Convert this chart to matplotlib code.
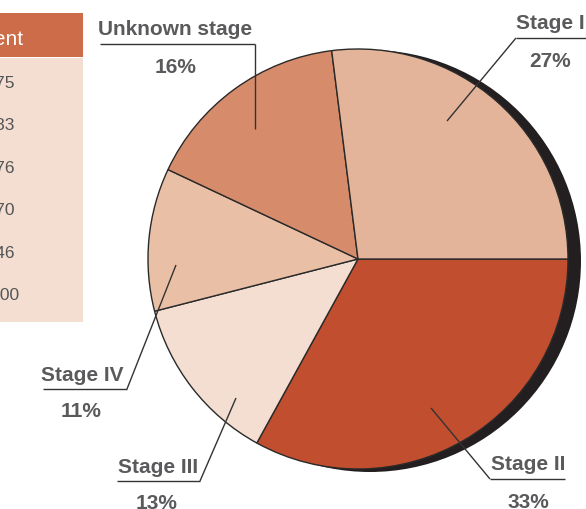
import matplotlib
matplotlib.use("Agg")
import matplotlib.pyplot as plt
from matplotlib.patches import Circle, Rectangle

# ---- data ----
categories = ["Stage II", "Stage III", "Stage IV", "Unknown stage", "Stage I"]
percents = [33, 13, 11, 16, 27]
colors = ["#C14E2E", "#F3DED1", "#E9BFA6", "#D68C6B", "#E3B499"]

table_header = "Percent"
table_values = ["26.75", "32.83", "12.76", "10.70", "16.46", "100.00"]

# ---- layout (pixel coords, y measured from top) ----
W, H = 586, 510
def Y(y):
    return H - y

fig = plt.figure(figsize=(W / 100, H / 100), dpi=100)
ax = fig.add_axes([0, 0, 1, 1])

cx, cy, r = 358, 260, 210

# shadow
ax.add_patch(Circle((cx + 12, Y(cy + 2)), r + 1, facecolor="#231F20",
                    edgecolor="none", zorder=0))

wedges, _ = ax.pie(percents, colors=colors, startangle=0, counterclock=False,
                   radius=r, center=(cx, Y(cy)),
                   wedgeprops=dict(edgecolor="#2a2a2a", linewidth=1.0))
for w in wedges:
    w.set_zorder(1)

lab_font = dict(family="Liberation Sans", fontsize=15, fontweight="bold",
                color="#5A5A5C")
line_kw = dict(color="#333333", lw=1.0, zorder=3, solid_capstyle="butt")

# label layouts: (label x, label baseline, ha, pct x, pct baseline,
#                 underline x0, x1, underline y, leader end x, leader end y, leader start x)
layout = {
    "Unknown stage": (175.5, 35, "center", 176, 73, 100, 255, 45, 255, 130, 255),
    "Stage I": (516, 29, "left", 550, 67, 516, 590, 39, 447, 122, 516),
    "Stage II": (528, 470, "center", 528, 508, 490, 565, 480, 431, 409, 490),
    "Stage III": (158, 473, "center", 157, 509, 117, 200, 482, 236, 399, 200),
    "Stage IV": (82, 381, "center", 81, 417, 43, 127, 390, 176, 266, 127),
}

for cat, pct in zip(categories, percents):
    lx, lb, ha, px, pb, u0, u1, uy, ex, ey, sx = layout[cat]
    ax.text(lx, Y(lb), cat, ha=ha, va="baseline", zorder=4, **lab_font)
    ax.text(px, Y(pb), f"{pct}%", ha="center", va="baseline", zorder=4, **lab_font)
    ax.plot([u0, u1], [Y(uy), Y(uy)], **line_kw)
    ax.plot([sx, ex], [Y(uy), Y(ey)], **line_kw)

# ---- table (partially cut at left) ----
ax.add_patch(Rectangle((-200, Y(58)), 283, 44, facecolor="#CD6C48",
                       edgecolor="none", zorder=0))
ax.add_patch(Rectangle((-200, Y(323)), 283, 264, facecolor="#F3DED1",
                       edgecolor="none", zorder=0))
ax.text(23, Y(45), table_header, ha="right", va="baseline",
        family="Liberation Sans", fontsize=15, color="white")
for i, v in enumerate(table_values):
    ax.text(-7, Y(88 + i * 42.4), v, ha="center", va="baseline",
            family="Liberation Sans", fontsize=12.5, color="#555557")

ax.set_xlim(0, W)
ax.set_ylim(0, H)
ax.set_aspect("auto")
ax.axis("off")

fig.savefig("out.png", dpi=100, facecolor="white")
